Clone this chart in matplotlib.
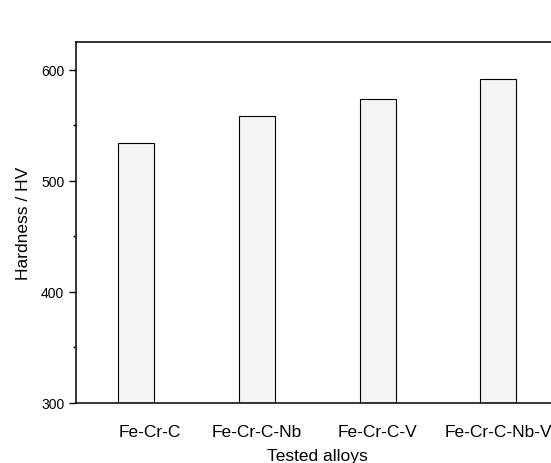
import matplotlib
matplotlib.use("Agg")
import matplotlib.pyplot as plt
import matplotlib.transforms as mtransforms
from matplotlib.ticker import MultipleLocator

plt.rcParams['font.family'] = ['Liberation Sans', 'DejaVu Sans']

alloys = ["Fe-Cr-C", "Fe-Cr-C-Nb", "Fe-Cr-C-V", "Fe-Cr-C-Nb-V"]
hardness = [534, 558, 574, 592]
positions = [1, 2, 3, 4]

fig = plt.figure(figsize=(5.51, 4.64), dpi=100)
ax = fig.add_axes([0.138, 0.130, 0.876, 0.777])

ax.bar(positions, [h - 300 for h in hardness], bottom=300, width=0.3,
       color="#f4f4f4", edgecolor="black", linewidth=0.8)

ax.set_xlim(0.5, 4.5)
ax.set_ylim(300, 625)
ax.set_xticks(positions)
ax.set_xticklabels(alloys, fontsize=12.5)
ax.tick_params(axis="x", length=0, pad=15)
ax.yaxis.set_major_locator(MultipleLocator(100))
ax.yaxis.set_minor_locator(MultipleLocator(50))
ax.tick_params(axis="y", which="major", direction="out", length=5, width=1,
               labelsize=10, pad=3.5)
ax.tick_params(axis="y", which="minor", direction="out", length=2.5, width=1)

# first label sits a little right of its bar in the original
lbl = ax.get_xticklabels()[0]
lbl.set_transform(lbl.get_transform() +
                  mtransforms.ScaledTranslation(13 / 100, 0, fig.dpi_scale_trans))

for s in ax.spines.values():
    s.set_linewidth(1.1)

ax.set_xlabel("Tested alloys", fontsize=12.5, labelpad=6.5)
ax.set_ylabel("Hardness / HV", fontsize=12.5, labelpad=7.5)

fig.savefig("out.png", dpi=100)
